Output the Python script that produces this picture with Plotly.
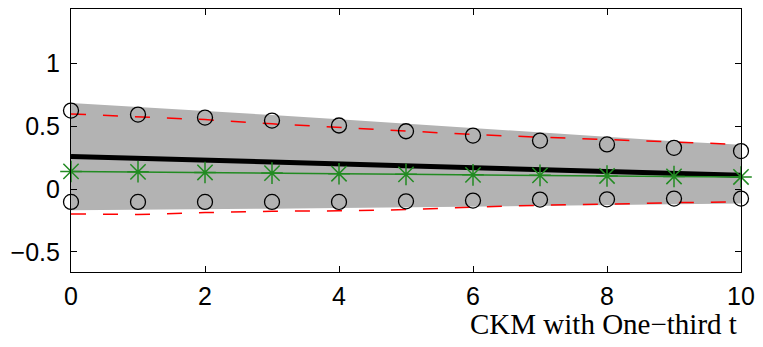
import plotly.graph_objects as go

horizon = [0, 1, 2, 3, 4, 5, 6, 7, 8, 9, 10]
band_upper = [0.686, 0.655, 0.622, 0.589, 0.555, 0.520, 0.483, 0.446, 0.413, 0.381, 0.352]
band_lower = [-0.169, -0.165, -0.161, -0.157, -0.152, -0.147, -0.141, -0.135, -0.129, -0.122, -0.116]
red_upper = [0.598, 0.577, 0.553, 0.519, 0.492, 0.466, 0.434, 0.413, 0.394, 0.373, 0.355]
red_lower = [-0.198, -0.203, -0.188, -0.177, -0.174, -0.164, -0.145, -0.129, -0.121, -0.108, -0.103]
median_line = [0.260, 0.245, 0.232, 0.219, 0.205, 0.190, 0.172, 0.157, 0.142, 0.126, 0.110]
green_line = [0.140, 0.137, 0.132, 0.127, 0.122, 0.117, 0.113, 0.109, 0.104, 0.100, 0.096]
circ_upper = [0.625, 0.593, 0.569, 0.545, 0.506, 0.460, 0.426, 0.386, 0.355, 0.328, 0.302]
circ_lower = [-0.103, -0.103, -0.103, -0.103, -0.103, -0.098, -0.092, -0.084, -0.082, -0.076, -0.076]

x_ticks = [0, 2, 4, 6, 8, 10]
y_ticks = [-0.5, 0, 0.5, 1]
y_tick_text = ["\u22120.5", "0", "0.5", "1"]
x_label = "CKM with One\u2212third t"

fig = go.Figure()

fig.add_trace(go.Scatter(
    x=horizon + horizon[::-1], y=band_upper + band_lower[::-1],
    fill="toself", fillcolor="#b3b3b3", line=dict(width=0, color="#b3b3b3"),
    mode="lines", hoverinfo="skip", showlegend=False))

for ys in (red_upper, red_lower):
    fig.add_trace(go.Scatter(
        x=horizon, y=ys, mode="lines",
        line=dict(color="red", width=1.5, dash="15px,17px"), showlegend=False))

fig.add_trace(go.Scatter(
    x=horizon, y=median_line, mode="lines",
    line=dict(color="black", width=5), showlegend=False))

fig.add_trace(go.Scatter(
    x=horizon, y=green_line, mode="lines+markers",
    line=dict(color="#228b22", width=1.5),
    marker=dict(symbol="asterisk-open", size=18, color="#228b22",
                line=dict(color="#228b22", width=1.5)),
    cliponaxis=False, showlegend=False))

for ys in (circ_upper, circ_lower):
    fig.add_trace(go.Scatter(
        x=horizon, y=ys, mode="markers",
        marker=dict(symbol="circle-open", size=15, color="black",
                    line=dict(color="black", width=1.3)),
        cliponaxis=False, showlegend=False))

axis_common = dict(
    showgrid=False, zeroline=False, showline=True, linecolor="black", linewidth=1.2,
    mirror="ticks", ticks="inside", ticklen=6, tickwidth=1, tickcolor="black",
    tickfont=dict(family="Liberation Sans, Arial, sans-serif", size=25, color="black"))

fig.update_xaxes(range=[0, 10], tickvals=x_ticks, ticklabelstandoff=2, **axis_common)
fig.update_yaxes(range=[-0.661, 1.434], tickvals=y_ticks, ticktext=y_tick_text,
                 ticklabelstandoff=5, **axis_common)

fig.add_annotation(
    text=x_label, xref="paper", yref="paper", x=(471 - 71) / 674.5, y=-0.196,
    xanchor="left", yanchor="middle", showarrow=False,
    font=dict(family="Liberation Serif, Times New Roman, serif", size=29, color="black"))

fig.update_layout(
    width=763, height=347, margin=dict(l=71, r=17.5, t=8, b=75),
    paper_bgcolor="white", plot_bgcolor="white")

fig.write_html("out.html")
